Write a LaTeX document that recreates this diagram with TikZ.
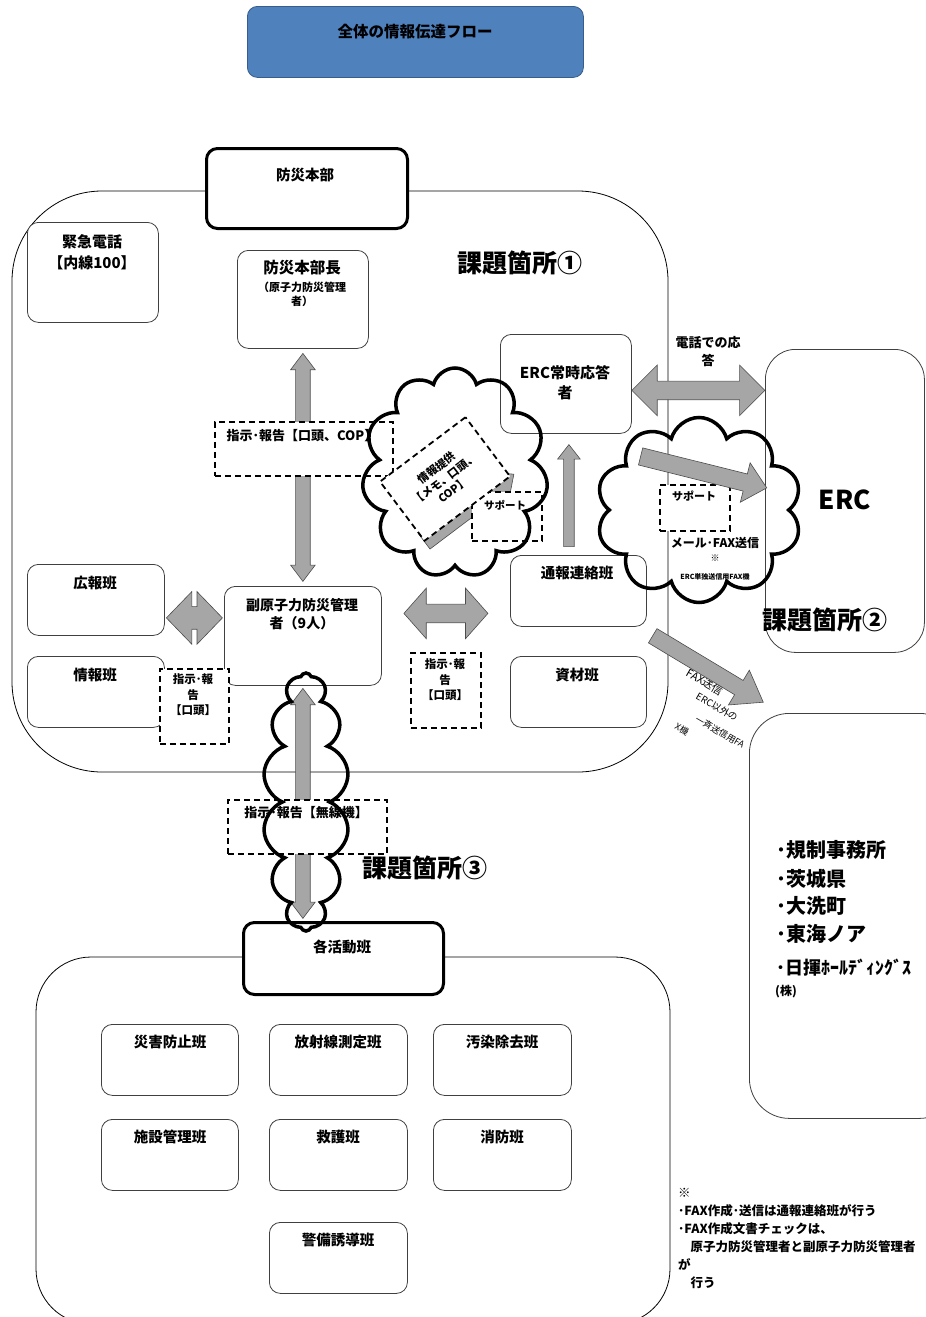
\documentclass[tikz,border=0pt]{standalone}
\usepackage{fontspec}
\setmainfont{Noto Sans CJK JP}
\usetikzlibrary{shapes.arrows,shapes.symbols,calc}
\definecolor{titleblue}{HTML}{4F81BD}
\definecolor{titleedge}{HTML}{385D8A}
\definecolor{arrowgray}{HTML}{A6A6A6}
\tikzset{
 box/.style={draw=black!75, line width=0.8pt, rounded corners=11pt, fill=white, anchor=north west, inner sep=0pt},
 thickbox/.style={box, line width=3pt, draw=black},
 dbox/.style={draw=black, line width=1.8pt, dash pattern=on 6pt off 4pt, fill=white, anchor=north west, inner sep=0pt},
 region/.style={draw=black, line width=0.8pt, rounded corners=#1},
 txt/.style={inner sep=0pt, align=center, font=\fontsize{14.5}{18}\selectfont\bfseries},
 small/.style={inner sep=0pt, align=center, font=\fontsize{11.5}{15.5}\selectfont\bfseries},
 big/.style={inner sep=0pt, font=\fontsize{25}{30}\selectfont\bfseries},
 listitem/.style={anchor=west, inner sep=0pt, font=\fontsize{20}{24}\selectfont\bfseries},
 garrow/.style={fill=arrowgray, draw=black!70, line width=0.6pt, inner sep=0pt, outer sep=0pt},
 dblarr/.style={garrow, double arrow, double arrow head indent=0pt},
 sglarr/.style={garrow, single arrow, single arrow head indent=0pt},
 puff/.style={cloud, draw=black, line width=3.5pt, cloud ignores aspect, inner sep=0pt},
}
\begin{document}
\begin{tikzpicture}[x=1pt,y=-1pt]
\useasboundingbox (0,0) rectangle (926,1317);

% regions
\draw[region=90pt] (12,191) rectangle (668,772);
\draw[region=55pt] (36,957) rectangle (670,1324);
\node[box, rounded corners=30pt, minimum width=159pt, minimum height=303pt] (erc) at (765,349) {};
\node[box, rounded corners=40pt, minimum width=210pt, minimum height=405pt] (others) at (749,713) {};

% title
\node[box, fill=titleblue, draw=titleedge, rounded corners=10pt, minimum width=336pt, minimum height=71pt] (title) at (247,6) {};
\node[txt, font=\fontsize{15.5}{18}\selectfont\bfseries] (titlet) at (415,32) {全体の情報伝達フロー};

% boxes
\node[thickbox, minimum width=201pt, minimum height=80pt] (hq) at (205,147) {};
\node[box, minimum width=131pt, minimum height=100pt] (kinkyu) at (27,222) {};
\node[box, minimum width=131pt, minimum height=98pt] (bhc) at (237,250) {};
\node[box, minimum width=131pt, minimum height=99pt] (ercj) at (500,334) {};
\node[box, minimum width=136pt, minimum height=71pt] (tsuho) at (510,555) {};
\node[box, minimum width=136pt, minimum height=71pt] (shizai) at (510,656) {};
\node[box, minimum width=137pt, minimum height=71pt] (koho) at (27,564) {};
\node[box, minimum width=137pt, minimum height=71pt] (joho) at (27,656) {};
\node[box, minimum width=157pt, minimum height=99pt] (fuku) at (224,586) {};
\node[thickbox, minimum width=200pt, minimum height=72pt] (katsudo) at (242,921) {};
\node[box, minimum width=137pt, minimum height=71pt] (saigai) at (101,1024) {};
\node[box, minimum width=138pt, minimum height=71pt] (hosha) at (269,1024) {};
\node[box, minimum width=138pt, minimum height=71pt] (osen) at (433,1024) {};
\node[box, minimum width=137pt, minimum height=71pt] (shisetsu) at (101,1119) {};
\node[box, minimum width=138pt, minimum height=71pt] (kyugo) at (269,1119) {};
\node[box, minimum width=138pt, minimum height=71pt] (shobo) at (433,1119) {};
\node[box, minimum width=138pt, minimum height=71pt] (keibi) at (269,1222) {};

% arrows behind dashed boxes
\node[dblarr, rotate=90, minimum height=228pt, double arrow head extend=5pt, double arrow tip angle=74] (a1) at ($(bhc.south)!0.5!(fuku.north)$) {\rule{0pt}{14pt}};
\node[dblarr, rotate=90, minimum height=230pt, double arrow head extend=5pt, double arrow tip angle=74] (a9) at ($(fuku.south)!0.5!(fuku.south |- katsudo.north)$) {\rule{0pt}{14pt}};
\node[sglarr, rotate=37, minimum height=112pt, single arrow head extend=9pt, single arrow tip angle=84] (a8) at (465,511) {\rule{0pt}{18pt}};

% dashed boxes
\node[dbox, minimum width=178pt, minimum height=54pt] (d1) at (214,421) {};
\node[dbox, minimum width=69pt, minimum height=75pt] (d2) at (159,668) {};
\node[dbox, minimum width=70pt, minimum height=75pt] (d3) at (410,652) {};
\node[dbox, minimum width=159pt, minimum height=54pt] (d4) at (227,799) {};
\node[dbox, minimum width=70pt, minimum height=49pt] (d5) at (471,491) {};
\node[dbox, minimum width=70pt, minimum height=46pt] (d6) at (659,484) {};
\node[dbox, anchor=center, rotate=37, minimum width=107pt, minimum height=74pt, align=center, font=\fontsize{11}{14}\selectfont\bfseries] (memo) at (445,479) {情報提供\\【メモ、口頭、\\COP】};

% other block arrows
\node[dblarr, minimum height=56pt, double arrow head extend=15pt, double arrow tip angle=92] (a2) at ($(koho.east)!0.5!(fuku.west)$) {\rule{0pt}{22pt}};
\node[dblarr, minimum height=84pt, double arrow head extend=16pt, double arrow tip angle=97] (a3) at ($(fuku.east)!0.5!(tsuho.west)$) {\rule{0pt}{18pt}};
\node[dblarr, yshift=-6.5pt, minimum height=133pt, double arrow head extend=16pt, double arrow tip angle=90] (a4) at ($(ercj.east)!0.5!(ercj.east -| erc.west)$) {\rule{0pt}{18pt}};
\node[sglarr, rotate=90, minimum height=102pt, single arrow head extend=6pt, single arrow tip angle=76] (a5) at ($(tsuho.north)+(-9.5,-56)$) {\rule{0pt}{10pt}};
\node[sglarr, rotate=-14, minimum height=130pt, single arrow head extend=11.5pt, single arrow tip angle=85] (a6) at (699,471) {\rule{0pt}{17pt}};

% diagonal text under arrow a7
\node[inner sep=0pt, rotate=-30, font=\fontsize{11}{13}\selectfont] (fx1) at (705,682) {FAX送信};
\node[inner sep=0pt, rotate=-30, font=\fontsize{9.5}{11}\selectfont] (fx2) at (717,707) {ERC以外の};
\node[inner sep=0pt, rotate=-30, font=\fontsize{9}{11}\selectfont] (fx3) at (720,732) {一斉送信用FA};
\node[inner sep=0pt, rotate=-30, font=\fontsize{9}{11}\selectfont] (fx4) at (682,729) {X機};
\node[sglarr, rotate=-31, minimum height=129pt, single arrow head extend=12pt, single arrow tip angle=71] (a7) at (703,666) {\rule{0pt}{16pt}};

% texts in boxes
\node[txt] (hqt) at (305,175) {防災本部};
\node[txt, font=\fontsize{15}{21}\selectfont\bfseries] (kinkyut) at (92,252) {緊急電話\\【内線100】};
\node[txt, font=\fontsize{15.5}{18}\selectfont\bfseries] (bhct) at (302,268) {防災本部長};
\node[small, font=\fontsize{11}{14}\selectfont\bfseries] (bhct2) at (302,294) {（原子力防災管理\\者）};
\node[txt, font=\fontsize{15}{20}\selectfont\bfseries] (ercjt) at (565,383) {ERC常時応答\\者};
\node[txt] (tsuhot) at (577,573) {通報連絡班};
\node[txt] (shizait) at (577,675) {資材班};
\node[txt] (kohot) at (95,583) {広報班};
\node[txt] (johot) at (95,675) {情報班};
\node[txt, font=\fontsize{14}{18}\selectfont\bfseries] (fukut) at (302,614) {副原子力防災管理\\者（9人）};
\node[txt] (katsudot) at (342,947) {各活動班};
\node[txt] (saigait) at (170,1042) {災害防止班};
\node[txt] (hoshat) at (338,1042) {放射線測定班};
\node[txt] (osent) at (502,1042) {汚染除去班};
\node[txt] (shisetsut) at (170,1137) {施設管理班};
\node[txt] (kyugot) at (338,1137) {救護班};
\node[txt] (shobot) at (502,1137) {消防班};
\node[txt] (keibit) at (338,1240) {警備誘導班};

% dashed box texts
\node[txt, font=\fontsize{13}{16}\selectfont\bfseries] (d1t) at (302,436) {指示･報告【口頭、COP】};
\node[small] (d2t) at (193,695) {指示･報\\告\\【口頭】};
\node[small] (d3t) at (445,680) {指示･報\\告\\【口頭】};
\node[txt, font=\fontsize{13}{16}\selectfont\bfseries] (d4t) at (306,813) {指示･報告【無線機】};
\node[small, font=\fontsize{10.5}{13}\selectfont\bfseries] (d5t) at (505,505) {サポート};
\node[small, font=\fontsize{11}{13}\selectfont\bfseries] (d6t) at (694,496) {サポート};

% labels
\node[big] (k1) at (520,263) {課題箇所①};
\node[big] (k2) at (825,620) {課題箇所②};
\node[big] (k3) at (425,868) {課題箇所③};
\node[big, font=\fontsize{26}{30}\selectfont\bfseries] (erct) at (845,500) {ERC};
\node[txt, font=\fontsize{13}{18}\selectfont\bfseries] (tel) at (708,352) {電話での応\\答};
\node[txt, font=\fontsize{12}{14}\selectfont\bfseries] (mail) at (715,543) {メール･FAX送信};
\node[txt, font=\fontsize{9}{10}\selectfont\bfseries] (kome) at (715,558) {※};
\node[txt, font=\fontsize{7}{8}\selectfont\bfseries] (erctan) at (715,577) {ERC単独送信用FAX機};

% clouds
\node[puff, cloud puffs=11, minimum width=186pt, minimum height=210pt] (c1) at (455,473) {};
\node[puff, cloud puffs=14, cloud puff arc=140, minimum width=86pt, minimum height=258pt] (c2) at (306,802) {};
\node[puff, cloud puffs=10, minimum width=206pt, minimum height=185pt] (c3) at (699,510) {};

% right list
\node[listitem] (l1) at (776,850) {･規制事務所};
\node[listitem] (l2) at (776,879) {･茨城県};
\node[listitem] (l3) at (776,906) {･大洗町};
\node[listitem] (l4) at (776,934) {･東海ノア};
\node[listitem, font=\fontsize{18}{22}\selectfont\bfseries] (l5) at (776,968) {･日揮ﾎｰﾙﾃﾞｨﾝｸﾞｽ};
\node[anchor=west, inner sep=0pt, font=\fontsize{12}{14}\selectfont\bfseries] (l6) at (775,992) {(株)};

% note
\node[anchor=north west, inner sep=0pt, align=left, font=\fontsize{12.5}{18}\selectfont\bfseries] (note) at (678,1188) {※\\･FAX作成･送信は通報連絡班が行う\\･FAX作成文書チェックは、\\　原子力防災管理者と副原子力防災管理者\\が\\　行う};
\end{tikzpicture}
\end{document}
